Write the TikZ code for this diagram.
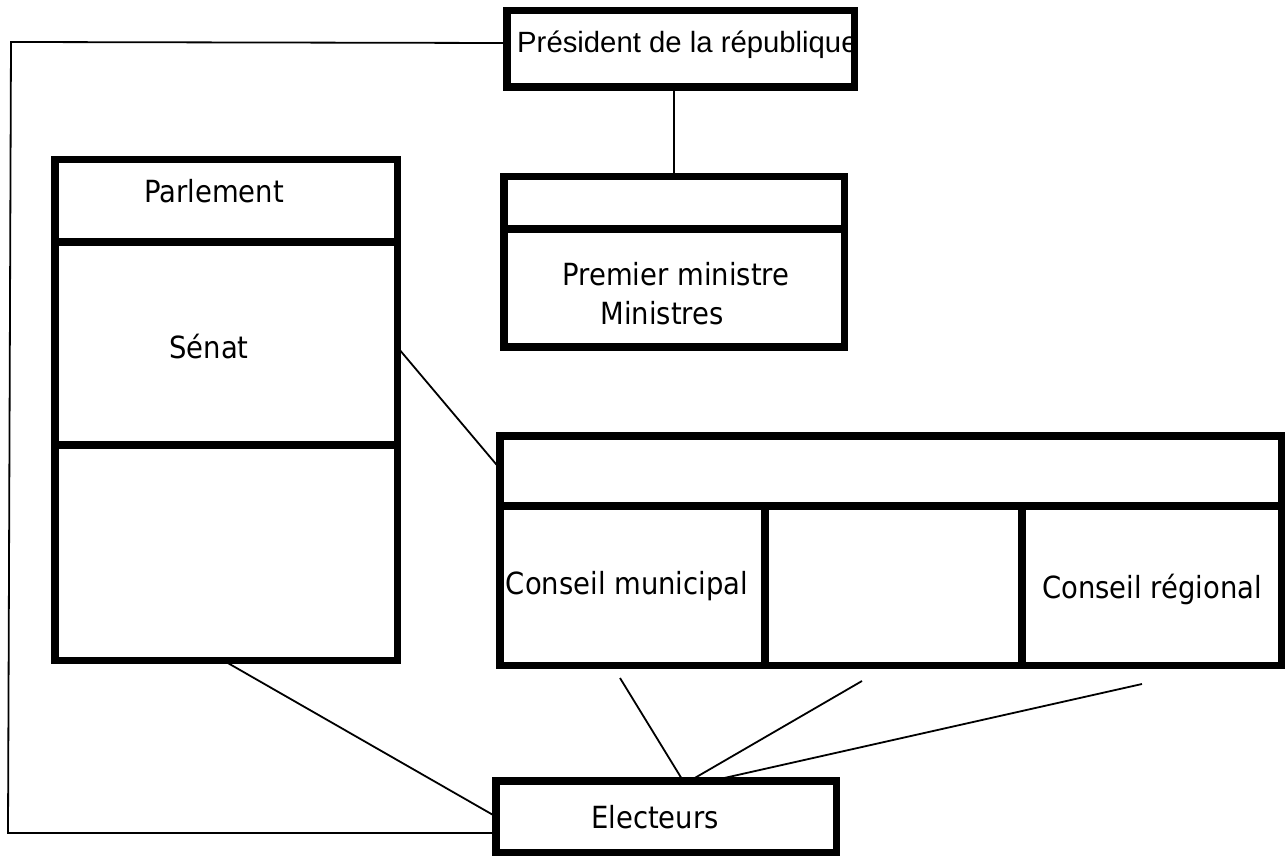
\documentclass[tikz,border=0pt]{standalone}
\usepackage{fontspec}
\setmainfont{DejaVu Sans}[FakeStretch=0.9]
\newfontfamily\arialf{Liberation Sans}
\begin{document}
\begin{tikzpicture}[x=1pt,y=-1pt,
  box/.style={draw, line width=7.5pt, rectangle, inner sep=0pt, outer sep=0pt},
  divider/.style={line width=7.5pt},
  link/.style={line width=1.8pt},
  lbl/.style={font=\fontsize{30.5}{39}\selectfont, inner sep=0pt, anchor=base},
  plbl/.style={font=\arialf\fontsize{29.3}{34}\selectfont, inner sep=0pt, anchor=base west}]
\useasboundingbox (0,0) rectangle (1285,858);
% boxes
\node[box, minimum width=347.5pt, minimum height=76.5pt] (pres) at (680.5,49) {};
\node[box, minimum width=340.5pt, minimum height=170.5pt] (pm) at (674,262) {};
\node[box, minimum width=342.5pt, minimum height=500.5pt] (parl) at (226,410) {};
\node[box, minimum width=781.5pt, minimum height=229.5pt] (cons) at (890.5,550.5) {};
\node[box, minimum width=340.5pt, minimum height=71.5pt] (elec) at (666,816.5) {};
% dividers
\draw[divider] (pm.west |- 0,229) -- (pm.east |- 0,229);
\draw[divider] (parl.west |- 0,242) -- (parl.east |- 0,242);
\draw[divider] (parl.west |- 0,445) -- (parl.east |- 0,445);
\draw[divider] (cons.west |- 0,506) -- (cons.east |- 0,506);
\draw[divider] (765,506) -- (cons.south -| 765,0);
\draw[divider] (1022,506) -- (cons.south -| 1022,0);
% texts
\node[plbl] (tpres) at (517,53) {Président de la république};
\node[lbl] (tparl) at (214,203) {Parlement};
\node[lbl] (tsen) at (209,359) {Sénat};
\node[lbl, align=center] (tpm) at (676,325) {Premier ministre\\Ministres\hspace*{28pt}};
\node[lbl] (tcm) at (627,594) {Conseil municipal};
\node[lbl] (tcr) at (1152,598) {Conseil régional};
\node[lbl] (tel) at (655,828) {Electeurs};
% free ends
\coordinate (fTL) at (11,42);
\coordinate (fBL) at (8,833);
\coordinate (c1) at (620,678);
\coordinate (c2) at (862,681);
\coordinate (c3) at (1142,684);
% connectors
\draw[link] (pm.north) -- (pm.north |- pres.south);
\draw[link] ([yshift=6pt]pres.west) -- (fTL) -- (fBL) -- ([yshift=-16.5pt]elec.west);
\draw[link] ([yshift=63pt]parl.east) -- ([yshift=82pt]cons.west);
\draw[link] ([xshift=-3pt]parl.south) -- (elec.west);
\draw[link] (c1) -- ([xshift=17pt]elec.north);
\draw[link] (c2) -- ([xshift=24pt]elec.north);
\draw[link] (c3) -- ([xshift=46pt]elec.north);
\end{tikzpicture}
\end{document}
